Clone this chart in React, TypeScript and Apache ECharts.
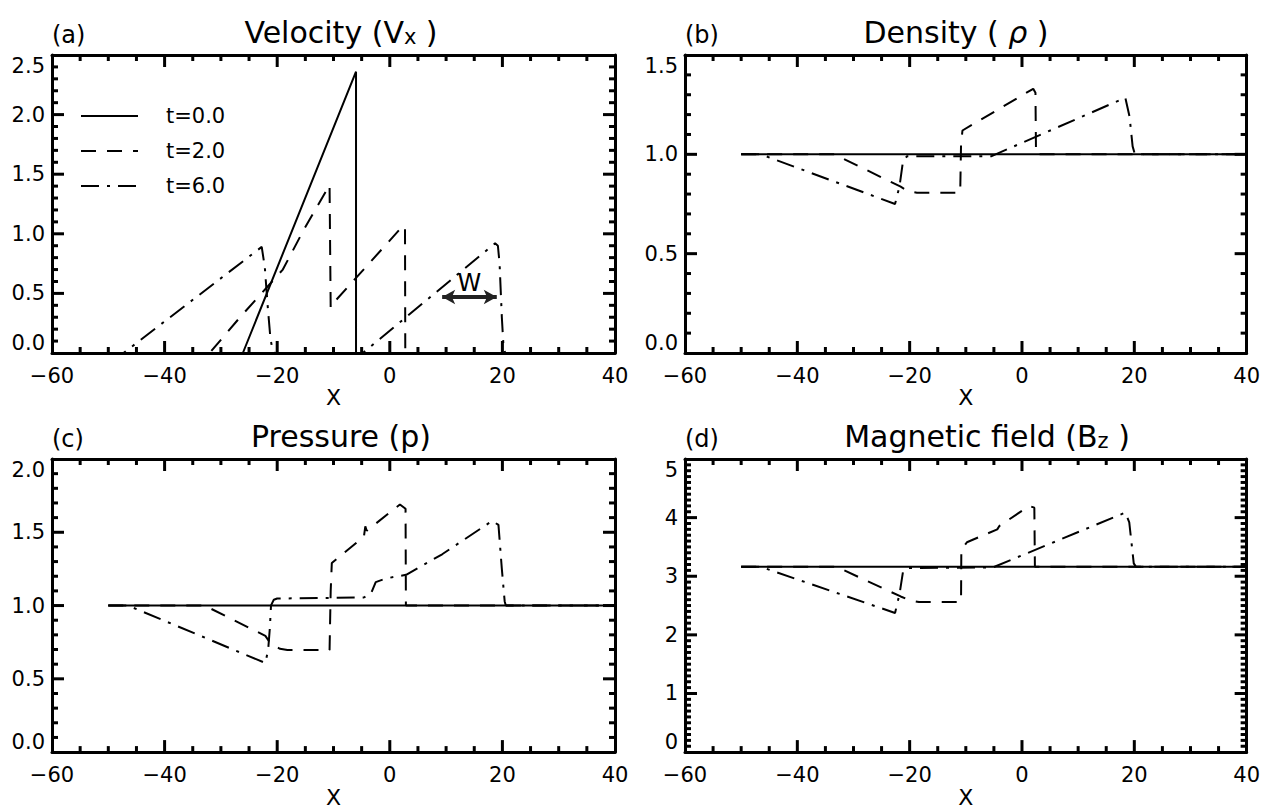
import React, { useEffect, useRef } from 'react';
import * as echarts from 'echarts';

const FONT = '"DejaVu Sans", "Liberation Sans", sans-serif';

// legend entries / time snapshots
const SERIES_NAMES = ['t=0.0', 't=2.0', 't=6.0'];

// shared x range of every panel
const X_MIN = -60;
const X_MAX = 40;
const X_STEP = 20;
const X_MINOR_STEP = 5;

// (a) velocity Vx
const vxT0: number[][] = [[-50, 0], [-26.1, 0], [-6.0, 2.36], [-6.0, 0], [40, 0]];
const vxT2: number[][] = [
  [-50, 0], [-32, 0], [-26.6, 0.3], [-19, 0.7], [-15.1, 1.05], [-10.7, 1.41],
  [-10.5, 0.38], [-10.2, 0.41], [2.4, 1.07], [2.7, 1.05], [2.75, 0], [40, 0],
];
const vxT6: number[][] = [
  [-50, 0], [-47.3, 0], [-22.75, 0.89], [-22.2, 0.72], [-21.7, 0.4], [-21.2, 0.12],
  [-20.8, 0.02], [-20.4, 0], [-4.8, 0], [18.7, 0.92], [19.2, 0.9], [19.5, 0.75],
  [19.9, 0.3], [20.2, 0.05], [20.5, 0], [40, 0],
];

// (b) density rho
const rhoT0: number[][] = [[-50, 1], [40, 1]];
const rhoT2: number[][] = [
  [-50, 1], [-33.4, 1], [-21.6, 0.837], [-20.3, 0.815], [-18.7, 0.807], [-11.0, 0.807],
  [-10.85, 1.05], [-10.6, 1.12], [2.0, 1.33], [2.4, 1.31], [2.5, 1.0], [40, 1],
];
const rhoT6: number[][] = [
  [-50, 1], [-46.5, 1], [-22.6, 0.75], [-21.8, 0.84], [-21.2, 0.963], [-20.5, 0.99],
  [-5.5, 0.99], [18.4, 1.285], [19.15, 1.19], [19.7, 1.04], [20.1, 1.0], [40, 1],
];

// (c) pressure p
const pT0: number[][] = [[-50, 1], [40, 1]];
const pT2: number[][] = [
  [-50, 1], [-32.9, 1], [-22.1, 0.793], [-21.1, 0.736], [-19.5, 0.705], [-18.2, 0.696],
  [-10.7, 0.696], [-10.5, 1.1], [-10.3, 1.29], [-4.6, 1.47], [-4.35, 1.54], [-4.1, 1.51],
  [1.8, 1.69], [2.8, 1.66], [2.86, 1.0], [40, 1],
];
const pT6: number[][] = [
  [-50, 1], [-46.5, 1], [-22.1, 0.608], [-21.6, 0.7], [-21.3, 0.85], [-21.1, 1.0],
  [-20.6, 1.04], [-20.0, 1.048], [-4.6, 1.055], [-3.3, 1.085], [-2.5, 1.16], [-0.7, 1.185],
  [2.9, 1.21], [9.3, 1.35], [18.2, 1.578], [19.3, 1.55], [19.9, 1.25], [20.4, 1.03],
  [20.6, 1.0], [40, 1],
];

// (d) magnetic field Bz
const bT0: number[][] = [[-50, 3.16], [40, 3.16]];
const bT2: number[][] = [
  [-50, 3.16], [-33, 3.16], [-21.6, 2.655], [-20.0, 2.59], [-18.35, 2.56], [-10.85, 2.56],
  [-10.8, 3.45], [-9.8, 3.58], [-4.4, 3.8], [-4.0, 3.86], [1.3, 4.2], [2.2, 4.17],
  [2.3, 3.16], [40, 3.16],
];
const bT6: number[][] = [
  [-50, 3.16], [-46.5, 3.16], [-22.6, 2.374], [-21.8, 2.7], [-21.2, 3.07], [-20.5, 3.14],
  [-5.2, 3.15], [18.4, 4.086], [19.1, 3.92], [19.9, 3.22], [20.3, 3.16], [40, 3.16],
];

// width marker W on the t=6.0 velocity profile
const W_FROM = [9.3, 0.47];
const W_TO = [19.0, 0.47];

const LINE_TYPES: any[] = ['solid', [15, 11], [18, 8, 3, 8]];

const PANELS = [
  {
    letter: '(a)', title: 'Velocity (V{sub|x} )', titleX: 341,
    left: 52, top: 55, height: 298,
    yMin: 0, yMax: 2.5, yStep: 0.5, yMinorStep: 0.1, yDec: 1,
    data: [vxT0, vxT2, vxT6],
  },
  {
    letter: '(b)', title: 'Density ( {rho|ρ} )', titleX: 956,
    left: 685, top: 55, height: 298,
    yMin: 0, yMax: 1.5, yStep: 0.5, yMinorStep: 0.1, yDec: 1,
    data: [rhoT0, rhoT2, rhoT6],
  },
  {
    letter: '(c)', title: 'Pressure (p)', titleX: 341,
    left: 52, top: 459, height: 297,
    yMin: 0, yMax: 2.0, yStep: 0.5, yMinorStep: 0.1, yDec: 1,
    data: [pT0, pT2, pT6],
  },
  {
    letter: '(d)', title: 'Magnetic field (B{sub|z} )', titleX: 987,
    left: 685, top: 459, height: 297,
    yMin: 0, yMax: 5, yStep: 1, yMinorStep: 0.1, yDec: 0,
    data: [bT0, bT2, bT6],
  },
];

const GRID_W = 563;
const MAJOR_LEN = 12;
const MINOR_LEN = 6;
const TICK_WIDTH = 3;

const fmtX = (v: number) => (v < 0 ? '\u2212' + Math.abs(v) : String(v));

// frame ticks for one panel: [value, 0 = x tick / 1 = y tick, 1 = major / 0 = minor, side 0 / 1]
function tickItems(p: any): number[][] {
  const out: number[][] = [];
  const nx = Math.round((X_MAX - X_MIN) / X_MINOR_STEP);
  const per = Math.round(X_STEP / X_MINOR_STEP);
  for (let j = 1; j < nx; j++) {
    const maj = j % per === 0 ? 1 : 0;
    out.push([X_MIN + j * X_MINOR_STEP, 0, maj, 0]);
    out.push([X_MIN + j * X_MINOR_STEP, 0, maj, 1]);
  }
  const ny = Math.round((p.yMax - p.yMin) / p.yMinorStep);
  const perY = Math.round(p.yStep / p.yMinorStep);
  for (let j = 1; j < ny; j++) {
    const maj = j % perY === 0 ? 1 : 0;
    out.push([p.yMin + j * p.yMinorStep, 1, maj, 0]);
    out.push([p.yMin + j * p.yMinorStep, 1, maj, 1]);
  }
  return out;
}

function buildOption() {
  const grid: any[] = [];
  const xAxis: any[] = [];
  const yAxis: any[] = [];
  const series: any[] = [];
  const title: any[] = [];

  PANELS.forEach((p, i) => {
    grid.push({ left: p.left, top: p.top, width: GRID_W, height: p.height, containLabel: false });

    const xBase = {
      gridIndex: i, type: 'value', min: X_MIN, max: X_MAX, interval: X_STEP,
      axisLine: { show: true, onZero: false, lineStyle: { color: '#000', width: 3 } },
      axisTick: { show: false }, minorTick: { show: false },
      splitLine: { show: false },
    };
    xAxis.push({
      ...xBase, position: 'bottom',
      name: 'X', nameLocation: 'middle', nameGap: 25,
      nameTextStyle: { fontFamily: FONT, fontSize: 22, color: '#000' },
      axisLabel: { show: true, fontFamily: FONT, fontSize: 21, color: '#000', margin: 12, formatter: fmtX },
    });
    xAxis.push({ ...xBase, position: 'top', axisLabel: { show: false } });

    const yBase = {
      gridIndex: i, type: 'value', min: p.yMin, max: p.yMax, interval: p.yStep,
      axisLine: { show: true, onZero: false, lineStyle: { color: '#000', width: 3 } },
      axisTick: { show: false }, minorTick: { show: false },
      splitLine: { show: false },
    };
    yAxis.push({
      ...yBase, position: 'left',
      axisLabel: {
        show: true, fontFamily: FONT, fontSize: 21, color: '#000', margin: 7,
        formatter: (v: number) => v.toFixed(p.yDec),
        verticalAlignMinLabel: 'bottom', verticalAlignMaxLabel: 'top',
      },
    });
    yAxis.push({ ...yBase, position: 'right', axisLabel: { show: false } });

    p.data.forEach((d, k) => {
      const s: any = {
        name: SERIES_NAMES[k], type: 'line',
        xAxisIndex: 2 * i, yAxisIndex: 2 * i,
        data: d, showSymbol: false, symbol: 'none', silent: true,
        lineStyle: { color: '#000', width: 2, type: LINE_TYPES[k] },
        itemStyle: { color: '#000' },
        z: 3 - k,
      };
      if (i === 0 && k === 2) {
        s.markLine = {
          silent: true,
          symbol: ['arrow', 'arrow'],
          symbolSize: [11, 13],
          lineStyle: { color: '#222', width: 4, type: 'solid' },
          label: {
            show: true, formatter: 'W', position: 'insideMiddleTop', distance: 2,
            fontFamily: FONT, fontSize: 24, color: '#000',
          },
          emphasis: { disabled: true },
          data: [[{ coord: W_FROM }, { coord: W_TO }]],
        };
      }
      series.push(s);
    });

    // inward ticks on all four sides, positioned through the panel's axes
    series.push({
      type: 'custom', coordinateSystem: 'cartesian2d', xAxisIndex: 2 * i, yAxisIndex: 2 * i,
      silent: true, clip: false, z: 10,
      data: tickItems(p),
      renderItem: (params: any, api: any) => {
        const v = api.value(0);
        const isY = api.value(1) === 1;
        const len = api.value(2) === 1 ? MAJOR_LEN : MINOR_LEN;
        const far = api.value(3) === 1;
        const style = { stroke: '#000', lineWidth: TICK_WIDTH };
        if (!isY) {
          const q = api.coord([v, far ? p.yMax : p.yMin]);
          const dy = far ? len : -len;
          return { type: 'line', shape: { x1: q[0], y1: q[1], x2: q[0], y2: q[1] + dy }, style };
        }
        const q = api.coord([far ? X_MAX : X_MIN, v]);
        const dx = far ? -len : len;
        return { type: 'line', shape: { x1: q[0], y1: q[1], x2: q[0] + dx, y2: q[1] }, style };
      },
    });

    title.push({
      text: p.title, left: p.titleX, top: p.top - 38, textAlign: 'center', padding: 0,
      textStyle: {
        fontFamily: FONT, fontSize: 30, fontWeight: 'normal', color: '#000', lineHeight: 30,
        rich: {
          sub: { fontFamily: FONT, fontSize: 21, lineHeight: 18, verticalAlign: 'bottom', color: '#000' },
          rho: { fontFamily: FONT, fontSize: 30, lineHeight: 30, fontStyle: 'italic', color: '#000' },
        },
      },
    });
    title.push({
      text: p.letter, left: p.left, top: p.top - 32, padding: 0,
      textStyle: { fontFamily: FONT, fontSize: 24, fontWeight: 'normal', color: '#000', lineHeight: 24 },
    });
  });

  return {
    animation: false,
    backgroundColor: '#fff',
    textStyle: { fontFamily: FONT },
    title,
    legend: {
      show: true, data: SERIES_NAMES, orient: 'vertical', left: 80, top: 105,
      itemWidth: 57, itemHeight: 14, itemGap: 13, selectedMode: false, padding: 0,
      itemStyle: { opacity: 0 },
      textStyle: { fontFamily: FONT, fontSize: 21, color: '#000', lineHeight: 22, padding: [0, 0, 0, 23] },
    },
    grid, xAxis, yAxis, series,
  };
}

export default function App() {
  const ref = useRef<HTMLDivElement>(null);
  useEffect(() => {
    document.body.style.margin = '0';
    const chart = echarts.init(ref.current!, null, { renderer: 'svg' });
    chart.setOption(buildOption() as any);
    return () => chart.dispose();
  }, []);
  return <div ref={ref} style={{ width: 1263, height: 809 }} />;
}
